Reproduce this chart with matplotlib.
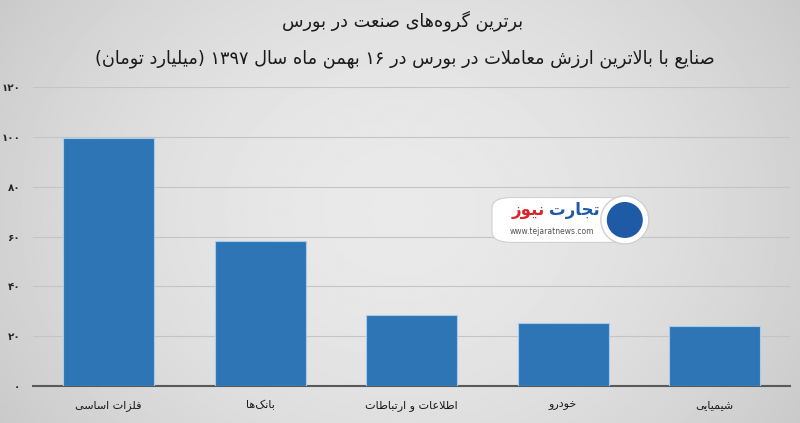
import numpy as np
import matplotlib
matplotlib.use("Agg")
import matplotlib.pyplot as plt
from matplotlib.patches import FancyBboxPatch, Ellipse

# data
categories = ["فلزات اساسی", "بانک‌ها", "اطلاعات و ارتباطات", "خودرو", "شیمیایی"]
values = [99.5, 58.2, 28.5, 25.3, 24.1]
yticks = [0, 20, 40, 60, 80, 100, 120]
title = "برترین گروه‌های صنعت در بورس"
subtitle = "صنایع با بالاترین ارزش معاملات در بورس در ۱۶ بهمن ماه سال ۱۳۹۷ (میلیارد تومان)"

# --- minimal persian shaping (matplotlib has no bidi / joining) ---
# char: (isolated, final, initial, medial); 2-tuple = right-joining only
FORMS = {
    "ا": ("\uFE8D", "\uFE8E"), "د": ("\uFEA9", "\uFEAA"), "ر": ("\uFEAD", "\uFEAE"),
    "ز": ("\uFEAF", "\uFEB0"), "و": ("\uFEED", "\uFEEE"),
    "ب": ("\uFE8F", "\uFE90", "\uFE91", "\uFE92"), "ت": ("\uFE95", "\uFE96", "\uFE97", "\uFE98"),
    "ج": ("\uFE9D", "\uFE9E", "\uFE9F", "\uFEA0"),
    "خ": ("\uFEA5", "\uFEA6", "\uFEA7", "\uFEA8"), "س": ("\uFEB1", "\uFEB2", "\uFEB3", "\uFEB4"),
    "ش": ("\uFEB5", "\uFEB6", "\uFEB7", "\uFEB8"), "ص": ("\uFEB9", "\uFEBA", "\uFEBB", "\uFEBC"),
    "ط": ("\uFEC1", "\uFEC2", "\uFEC3", "\uFEC4"), "ع": ("\uFEC9", "\uFECA", "\uFECB", "\uFECC"),
    "ف": ("\uFED1", "\uFED2", "\uFED3", "\uFED4"), "ل": ("\uFEDD", "\uFEDE", "\uFEDF", "\uFEE0"),
    "م": ("\uFEE1", "\uFEE2", "\uFEE3", "\uFEE4"), "ن": ("\uFEE5", "\uFEE6", "\uFEE7", "\uFEE8"),
    "ه": ("\uFEE9", "\uFEEA", "\uFEEB", "\uFEEC"), "ی": ("\uFBFC", "\uFBFD", "\uFBFE", "\uFBFF"),
    "ک": ("\uFB8E", "\uFB8F", "\uFB90", "\uFB91"), "گ": ("\uFB92", "\uFB93", "\uFB94", "\uFB95"),
    "LA": ("\uFEFB", "\uFEFC"),
}
MIRROR = {"(": ")", ")": "("}


def shape(s):
    toks = []
    i = 0
    while i < len(s):
        if s[i] == "ل" and i + 1 < len(s) and s[i + 1] == "ا":
            toks.append("LA")
            i += 2
        else:
            toks.append(s[i])
            i += 1
    out = []
    for k, t in enumerate(toks):
        if t not in FORMS:
            out.append("" if t == "\u200c" else t)
            continue
        f = FORMS[t]
        prev = toks[k - 1] if k > 0 else None
        nxt = toks[k + 1] if k + 1 < len(toks) else None
        jp = prev in FORMS and len(FORMS[prev]) == 4
        jn = len(f) == 4 and nxt in FORMS
        if jp and jn:
            out.append(f[3])
        elif jp:
            out.append(f[1])
        elif jn:
            out.append(f[2])
        else:
            out.append(f[0])
    # visual order: reverse, keep digit runs left-to-right
    runs, cur, isd = [], "", None
    for ch in out:
        d = ch.isdigit()
        if cur and d != isd:
            runs.append((cur, isd))
            cur = ""
        cur += ch
        isd = d
    if cur:
        runs.append((cur, isd))
    vis = ""
    for r, d in reversed(runs):
        vis += r if d else "".join(MIRROR.get(c, c) for c in reversed(r))
    return vis


def fa_num(n):
    return "".join("۰۱۲۳۴۵۶۷۸۹"[int(c)] for c in str(n))


plt.rcParams["font.family"] = ["DejaVu Sans"]

fig = plt.figure(figsize=(8, 4.23), dpi=100)

# gray background, lighter in the middle
bg = fig.add_axes([0, 0, 1, 1], zorder=-10)
yy, xx = np.mgrid[-1:1:200j, -1:1:380j]
r = np.sqrt((xx * 0.95) ** 2 + (yy * 0.6) ** 2)
bg.imshow(0.915 - 0.1 * r ** 1.8, cmap="gray", vmin=0, vmax=1, aspect="auto",
          extent=[0, 1, 0, 1])
bg.axis("off")

ax = fig.add_axes([0.041, 0.0875, 0.947, 0.7065])
ax.set_facecolor("none")
x = np.arange(len(categories))
ax.bar(x, values, width=0.6, color="#2e75b6", edgecolor="#a9cbe8", linewidth=0.8, zorder=3)
ax.set_xlim(-0.5, len(categories) - 0.5)
ax.set_ylim(0, 120)
ax.set_yticks(yticks)
ax.set_yticklabels([fa_num(v) for v in yticks], fontsize=7.5, fontweight="bold", color="#262626")
ax.set_xticks(x)
ax.set_xticklabels([shape(c) for c in categories], fontsize=8, color="#1a1a1a")
ax.tick_params(axis="y", length=0, pad=9)
ax.tick_params(axis="x", length=0, pad=10)
ax.grid(axis="y", color="#c4c4c4", linewidth=0.8, zorder=0)
for s in ["top", "right", "left"]:
    ax.spines[s].set_visible(False)
ax.spines["bottom"].set_color("#595959")
ax.spines["bottom"].set_linewidth(1.5)

fig.text(0.503, 0.95, shape(title), ha="center", va="center", fontsize=12.7, color="#1a1a1a")
fig.text(0.506, 0.862, shape(subtitle), ha="center", va="center", fontsize=12.8, color="#1a1a1a")

# watermark logo
box = FancyBboxPatch((0.618, 0.43), 0.165, 0.1, boxstyle="round,pad=0.003,rounding_size=0.025",
                     transform=fig.transFigure, facecolor="white", edgecolor="#d0d0d0",
                     linewidth=0.8, zorder=5)
fig.patches.append(box)
fig.patches.append(Ellipse((0.781, 0.48), 48 / 800, 48 / 423, transform=fig.transFigure,
                           facecolor="white", edgecolor="#d0d0d0", zorder=5))
fig.patches.append(Ellipse((0.781, 0.48), 36 / 800, 36 / 423, transform=fig.transFigure,
                           facecolor="#1f5aa6", zorder=6))
fig.text(0.718, 0.503, shape("تجارت"), color="#1f5aa6", fontsize=12, fontweight="bold",
         ha="center", va="center", zorder=7)
fig.text(0.66, 0.503, shape("نیوز"), color="#d7262e", fontsize=12, fontweight="bold",
         ha="center", va="center", zorder=7)
fig.text(0.69, 0.452, "www.tejaratnews.com", color="#555555", fontsize=5.5,
         ha="center", va="center", zorder=7)

fig.savefig("out.png", dpi=100)
